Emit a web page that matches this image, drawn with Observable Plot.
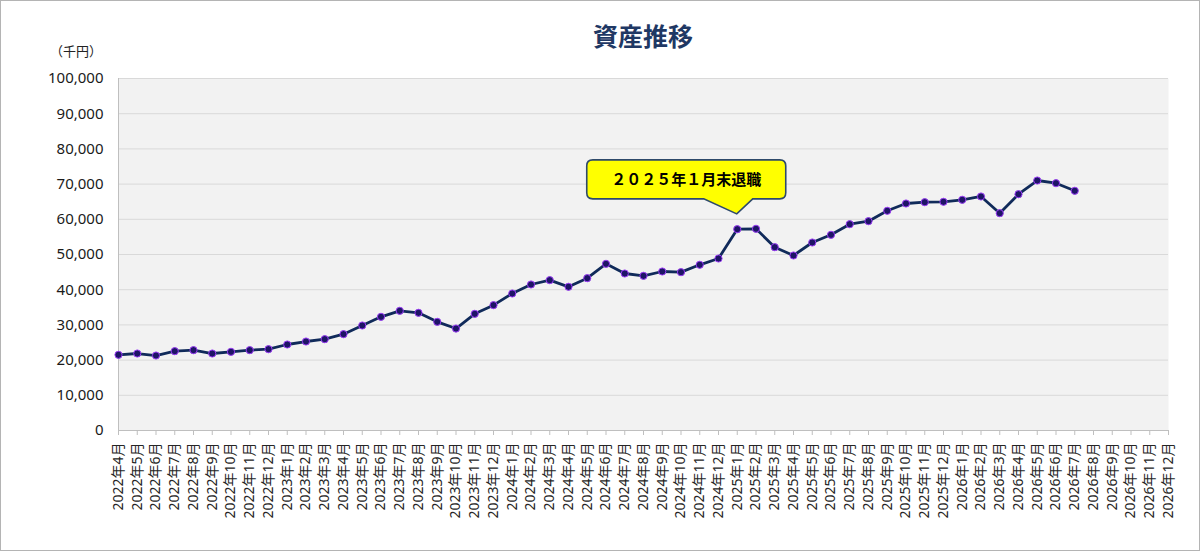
<!DOCTYPE html>
<html><head><meta charset="utf-8">
<script src="https://cdn.jsdelivr.net/npm/d3@7"></script>
<script src="https://cdn.jsdelivr.net/npm/@observablehq/plot@0.6"></script>
<style>
html,body{margin:0;padding:0;background:#fff;}
#wrap{position:relative;width:1200px;height:551px;outline:1px solid #b4b4b4;outline-offset:-1px;overflow:hidden;
  font-family:'Noto Sans','Noto Sans CJK JP',sans-serif;}
#title{position:absolute;left:0;width:1286px;top:17px;text-align:center;font-family:'Noto Sans CJK JP',sans-serif;font-weight:bold;font-size:25px;color:#1f3864;line-height:36px;}
#unit{position:absolute;left:50px;top:41px;font-size:13px;color:#222;font-family:'Noto Sans CJK JP',sans-serif;}
#chart{position:absolute;left:0;top:0;}
</style></head>
<body><div id="wrap"><div id="chart"></div><div id="title">資産推移</div><div id="unit">（千円）</div></div>
<script>
const months = (() => {
  const out = [];
  for (let y = 2022; y <= 2026; y++) for (let m = 1; m <= 12; m++) {
    if (y === 2022 && m < 4) continue;
    out.push(`${y}年${m}月`);
  }
  return out;
})();
const assetValues = [
  21500, 21870, 21300, 22540, 22830, 21870, 22350, 22830, 23100,
  24430, 25280, 25950, 27370, 29830, 32290, 34000, 33430, 30870, 28970, 33140, 35610,
  38920, 41480, 42710, 40820, 43280, 47350, 44600, 43940, 45170, 44980, 47070, 48860,
  57190, 57300, 52080, 49720, 53410, 55590, 58610, 59470, 62410, 64490, 64860, 64970,
  65540, 66480, 61740, 67130, 71020, 70260, 68100
];
const yTicks = [0, 10000, 20000, 30000, 40000, 50000, 60000, 70000, 80000, 90000, 100000];
const annotations = [{month: "2025年1月", value: 61400, label: "２０２５年１月末退職"}];

const data = assetValues.map((v, i) => ({month: months[i], value: v}));

const callout = Plot.dot(annotations, {
  x: "month", y: "value", r: 0,
  render(index, scales, values, dimensions, context) {
    const g = d3.create("svg:g");
    for (const i of index) {
      const tx = values.x[i], ty = values.y[i];
      const L = tx - 150, R = tx + 49, T = ty - 54, B = ty - 15, r = 6;
      const p = `M${L + r},${T}H${R - r}Q${R},${T} ${R},${T + r}V${B - r}Q${R},${B} ${R - r},${B}` +
        `H${tx + 16}L${tx},${ty}L${tx - 33},${B}H${L + r}Q${L},${B} ${L},${B - r}V${T + r}Q${L},${T} ${L + r},${T}Z`;
      g.append("path").attr("d", p).attr("fill", "#ffff00").attr("stroke", "#2e4a6b").attr("stroke-width", 1.6);
      g.append("text").attr("x", (L + R) / 2).attr("y", (T + B) / 2).attr("dy", "0.36em")
        .attr("text-anchor", "middle").attr("font-weight", "bold").attr("font-size", 15)
        .attr("font-family", "'Noto Sans CJK JP',sans-serif").attr("fill", "#000")
        .text(annotations[i].label);
    }
    return g.node();
  }
});

const chart = Plot.plot({
  width: 1200, height: 551,
  marginTop: 78, marginLeft: 118, marginRight: 32, marginBottom: 121,
  style: {fontFamily: "'Noto Sans','Noto Sans CJK JP',sans-serif", background: "transparent", overflow: "visible"},
  x: {type: "point", domain: months, padding: 0, label: null},
  y: {domain: [0, 100000], label: null},
  marks: [
    Plot.frame({fill: "#f2f2f2", stroke: null}),
    Plot.gridY(yTicks, {stroke: "#d9d9d9", strokeOpacity: 1, strokeWidth: 1}),
    Plot.ruleX([months[0]], {stroke: "#bfbfbf"}),
    Plot.ruleY([0], {stroke: "#bfbfbf"}),
    Plot.axisY(yTicks, {tickSize: 0, tickPadding: 15, fontSize: 15, fill: "#1a1a1a", tickFormat: d3.format(","), label: null}),
    Plot.axisX({tickRotate: -90, tickSize: 5, tickPadding: 7, fontSize: 14, fill: "#262626", stroke: "#bfbfbf", label: null}),
    Plot.line(data, {x: "month", y: "value", stroke: "#102a5a", strokeWidth: 2.8}),
    Plot.dot(data, {x: "month", y: "value", r: 3.6, fill: "#1e1466", stroke: "#9a3cf5", strokeWidth: 1}),
    callout
  ]
});
document.getElementById("chart").appendChild(chart);
</script>
</body></html>
